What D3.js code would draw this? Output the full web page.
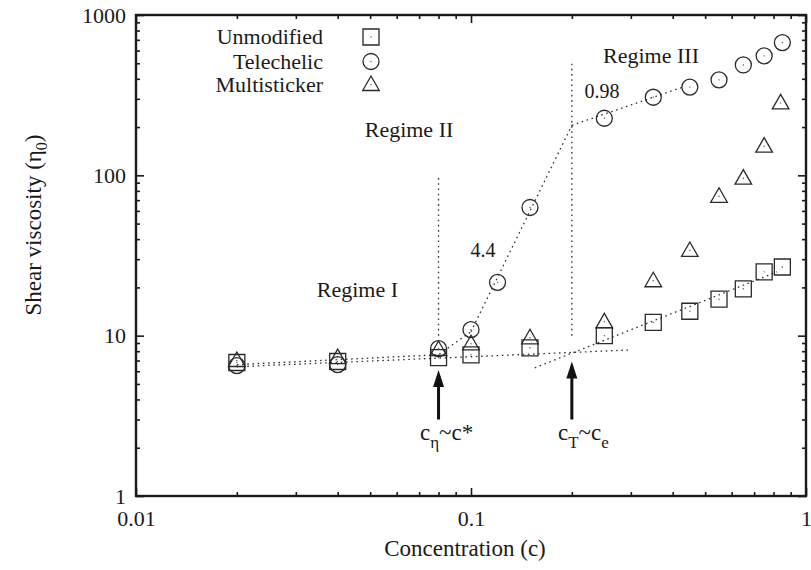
<!DOCTYPE html>
<html lang="en">
<head>
<meta charset="UTF-8">
<title>Shear viscosity vs concentration</title>
<script src="https://cdn.jsdelivr.net/npm/d3@7/dist/d3.min.js"></script>
<style>
    body { margin: 0; background: #fff; }
</style>
</head>
<body>
<svg width="811" height="570" id="main"></svg>
<script>
    // values
    let concUnmod = [0.02, 0.04, 0.08, 0.1, 0.15, 0.25, 0.35, 0.45, 0.55, 0.65, 0.75, 0.85];
    let etaUnmod = [6.8, 6.9, 7.3, 7.6, 8.4, 10.0, 12.1, 14.2, 16.9, 19.6, 25.0, 26.8];
    let concTele = [0.02, 0.04, 0.08, 0.1, 0.12, 0.15, 0.25, 0.35, 0.45, 0.55, 0.65, 0.75, 0.85];
    let etaTele = [6.5, 6.6, 8.3, 10.9, 21.5, 63, 227, 307, 355, 394, 488, 556, 673];
    let concMulti = [0.02, 0.04, 0.08, 0.1, 0.15, 0.25, 0.35, 0.45, 0.55, 0.65, 0.75, 0.84];
    let etaMulti = [7.0, 7.3, 8.2, 8.9, 9.7, 12.2, 22, 34, 74, 96, 152, 283];

    // dotted guide lines [c, eta]
    let fitUnmodLow = [[0.02, 6.4], [0.3, 8.15]];
    let fitUnmodHigh = [[0.155, 6.3], [0.82, 25]];
    let fitTeleLow = [[0.02, 6.6], [0.08, 7.6], [0.1, 10.6]];
    let fitTeleMid = [[0.1, 10.6], [0.2, 205]];
    let fitTeleHigh = [[0.2, 205], [0.43, 356]];
    let regimeBounds = [[[0.08, 10], [0.08, 100]], [[0.2, 10], [0.2, 500]]];
    let arrows = [[0.08, 3, 6.1], [0.2, 3, 6.9]];

    let legendNames = ['Unmodified', 'Telechelic', 'Multisticker'];
    let xMajor = [0.01, 0.1, 1];
    let yMajor = [1, 10, 100, 1000];

    const FONT = '"Liberation Serif", "DejaVu Serif", serif';
    const INK = '#1a1a1a';

    let svg = d3.select('#main');
    let margin = {top: 15, right: 5, bottom: 74, left: 136};
    const width = +svg.attr('width'), height = +svg.attr('height');

    let x = d3.scaleLog().domain([0.01, 1]).range([margin.left, width - margin.right]);
    let y = d3.scaleLog().domain([1, 1000]).range([height - margin.bottom, margin.top]);

    let minors = (majors) => {
        let out = [];
        majors.slice(0, -1).forEach(m => { for (let k = 2; k <= 9; k++) out.push(m * k); });
        return out;
    };
    let xMinor = minors(xMajor), yMinor = minors(yMajor);

    // axes on all four sides, ticks pointing in
    let axisStyle = g => {
        g.attr('font-family', FONT).attr('font-size', 22);
        g.select('.domain').remove();
        g.selectAll('line').attr('stroke', INK).attr('stroke-width', 1.6);
        g.selectAll('text').attr('fill', INK);
    };
    let fmt = d => d3.format('~g')(d);
    let y0 = y.range()[0], y1 = y.range()[1], x0 = x.range()[0], x1 = x.range()[1];

    svg.append('g').attr('transform', `translate(0,${y0})`)
        .call(d3.axisBottom(x).tickValues(xMajor).tickFormat(fmt).tickSize(-8).tickPadding(14)).call(axisStyle);
    svg.append('g').attr('transform', `translate(0,${y0})`)
        .call(d3.axisBottom(x).tickValues(xMinor).tickFormat('').tickSize(-4)).call(axisStyle);
    svg.append('g').attr('transform', `translate(0,${y1})`)
        .call(d3.axisTop(x).tickValues(xMajor).tickFormat('').tickSize(-8)).call(axisStyle);
    svg.append('g').attr('transform', `translate(0,${y1})`)
        .call(d3.axisTop(x).tickValues(xMinor).tickFormat('').tickSize(-4)).call(axisStyle);

    svg.append('g').attr('transform', `translate(${x0},0)`)
        .call(d3.axisLeft(y).tickValues(yMajor).tickFormat(fmt).tickSize(-8).tickPadding(10)).call(axisStyle);
    svg.append('g').attr('transform', `translate(${x0},0)`)
        .call(d3.axisLeft(y).tickValues(yMinor).tickFormat('').tickSize(-4)).call(axisStyle);
    svg.append('g').attr('transform', `translate(${x1},0)`)
        .call(d3.axisRight(y).tickValues(yMajor).tickFormat('').tickSize(-8)).call(axisStyle);
    svg.append('g').attr('transform', `translate(${x1},0)`)
        .call(d3.axisRight(y).tickValues(yMinor).tickFormat('').tickSize(-4)).call(axisStyle);

    svg.append('rect').attr('x', x0).attr('y', y1).attr('width', x1 - x0).attr('height', y0 - y1)
        .attr('fill', 'none').attr('stroke', INK).attr('stroke-width', 2.4);

    let txt = (tx, ty, size, anchor) => svg.append('text').attr('x', tx).attr('y', ty)
        .attr('font-family', FONT).attr('font-size', size).attr('fill', INK)
        .attr('text-anchor', anchor || 'start');

    // axis titles
    txt(465, 556, 23, 'middle').text('Concentration (c)');
    let yl = svg.append('text').attr('transform', 'translate(41,225) rotate(-90)')
        .attr('font-family', FONT).attr('fill', INK).attr('text-anchor', 'middle').attr('font-size', 23);
    yl.append('tspan').text('Shear viscosity (η');
    yl.append('tspan').attr('dy', 6).attr('font-size', 16).text('0');
    yl.append('tspan').attr('dy', -6).text(')');

    // dotted guides
    let line = d3.line().x(d => x(d[0])).y(d => y(d[1]));
    let dotted = (pts) => svg.append('path').datum(pts).attr('d', line)
        .attr('fill', 'none').attr('stroke', '#333').attr('stroke-width', 1.3)
        .attr('stroke-dasharray', '1.6,3.6');
    [fitUnmodLow, fitUnmodHigh, fitTeleLow, fitTeleMid, fitTeleHigh].forEach(dotted);
    regimeBounds.forEach(dotted);

    // markers
    let sym = {
        square: 'M-8,-8H8V8H-8Z',
        circle: 'M-8,0A8,8 0 1,0 8,0A8,8 0 1,0 -8,0Z',
        triangle: 'M0,-8.5L8.3,6L-8.3,6Z'
    };
    let marker = (g, shape) => {
        g.append('path').attr('d', sym[shape]).attr('fill', 'none')
            .attr('stroke', '#2a2a2a').attr('stroke-width', 1.3);
        g.append('circle').attr('r', 0.7).attr('fill', '#555');
    };
    let series = [
        {c: concUnmod, v: etaUnmod, shape: 'square'},
        {c: concTele, v: etaTele, shape: 'circle'},
        {c: concMulti, v: etaMulti, shape: 'triangle'}
    ];
    series.forEach(s => {
        s.c.forEach((c, i) => {
            let g = svg.append('g').attr('transform', `translate(${x(c)},${y(s.v[i])})`);
            marker(g, s.shape);
        });
    });

    // legend
    let legendY = [37, 61.5, 84.5];
    legendNames.forEach((name, i) => {
        txt(323, legendY[i] + 7, 22, 'end').text(name);
        let g = svg.append('g').attr('transform', `translate(371,${legendY[i]})`);
        marker(g, series[i].shape);
    });

    // arrows
    arrows.forEach(a => {
        let ax = x(a[0]), yTail = y(a[1]), yTip = y(a[2]);
        svg.append('line').attr('x1', ax).attr('x2', ax).attr('y1', yTail).attr('y2', yTip + 10)
            .attr('stroke', '#111').attr('stroke-width', 3);
        svg.append('path').attr('d', `M${ax},${yTip}L${ax + 5.5},${yTip + 17}L${ax - 5.5},${yTip + 17}Z`)
            .attr('fill', '#111');
    });

    // annotations
    txt(398, 297, 22, 'end').text('Regime I');
    txt(409, 137, 22, 'middle').text('Regime II');
    txt(651, 63, 22, 'middle').text('Regime III');
    txt(483, 257, 20, 'middle').text('4.4');
    txt(602, 98, 20, 'middle').text('0.98');

    let sub = (tx, parts) => {
        let t = txt(tx, 440, 23);
        parts.forEach(p => t.append('tspan').attr('dy', p[1]).attr('font-size', p[2] || 23).text(p[0]));
    };
    sub(420, [['c', 0], ['η', 8, 17], ['~c*', -8]]);
    sub(558, [['c', 0], ['T', 8, 17], ['~c', -8], ['e', 8, 17]]);
</script>
</body>
</html>
